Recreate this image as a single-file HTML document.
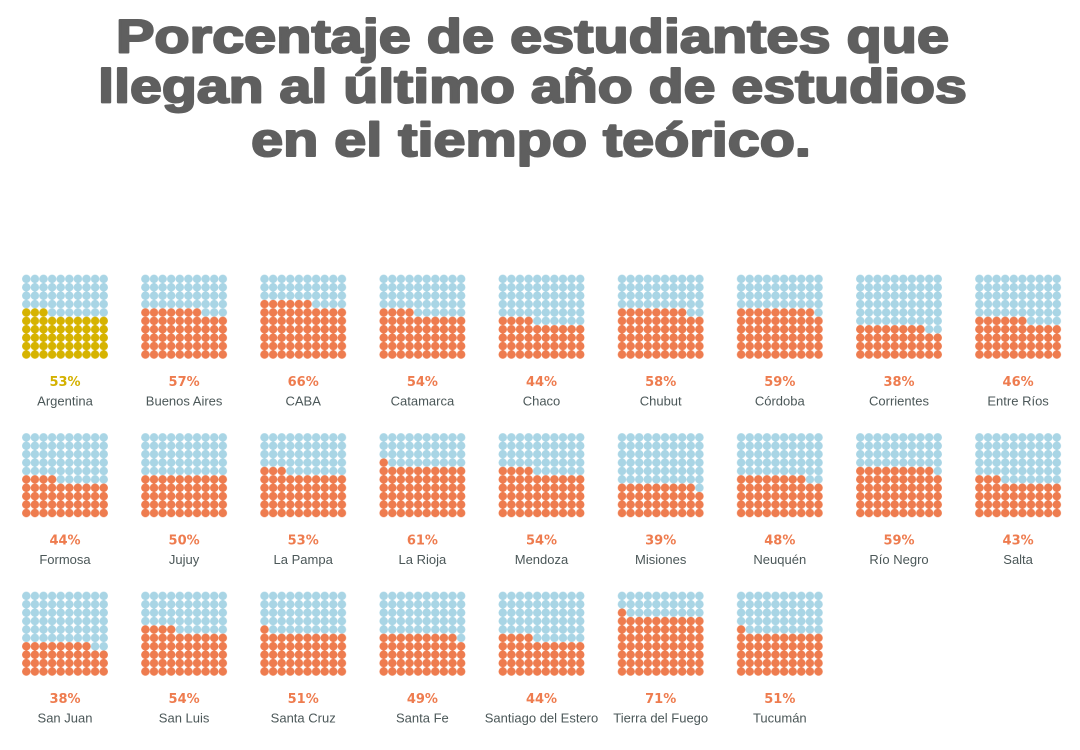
<!DOCTYPE html>
<html>
<head>
<meta charset="utf-8">
<style>
  html,body{margin:0;padding:0;background:#ffffff;}
  body{width:1080px;height:750px;overflow:hidden;}
  svg{display:block;}
  .t{font-family:"Liberation Sans",sans-serif;font-weight:bold;font-size:47px;fill:#5f5f5f;stroke:#5f5f5f;stroke-width:2px;stroke-linejoin:round;}
  .p{font-family:"DejaVu Sans",sans-serif;font-weight:bold;font-size:13px;fill:#ee7c4f;}
  .py{fill:#d4b100;}
  .n{font-family:"Liberation Sans",sans-serif;font-size:13px;fill:#4b5758;}
</style>
</head>
<body>
<svg width="1080" height="750" viewBox="0 0 1080 750" xmlns="http://www.w3.org/2000/svg">
  <defs>
    <pattern id="B" patternUnits="userSpaceOnUse" width="8.6" height="8.4"><circle cx="4.3" cy="4.2" r="4.25" fill="#a9d5e5"/></pattern>
    <pattern id="O" patternUnits="userSpaceOnUse" width="8.6" height="8.4"><circle cx="4.3" cy="4.2" r="4.25" fill="#ee7c4f"/></pattern>
    <pattern id="Y" patternUnits="userSpaceOnUse" width="8.6" height="8.4"><circle cx="4.3" cy="4.2" r="4.25" fill="#d6b300"/></pattern>
  </defs>

  <g text-anchor="middle">
    <text class="t" transform="translate(532.5,52.5) scale(1.227,1)" x="0" y="0">Porcentaje de estudiantes que</text>
    <text class="t" transform="translate(532.5,102.5) scale(1.219,1)" x="0" y="0">llegan al último año de estudios</text>
    <text class="t" transform="translate(531,156) scale(1.225,1)" x="0" y="0">en el tiempo teórico.</text>
  </g>

  <!-- Row 1 (y0=274.7) -->
  <g transform="translate(22,274.7)">
    <rect x="0" y="0" width="86" height="33.6" fill="url(#B)"/>
    <rect x="25.8" y="33.6" width="60.2" height="8.4" fill="url(#B)"/>
    <rect x="0" y="33.6" width="25.8" height="8.4" fill="url(#Y)"/>
    <rect x="0" y="42" width="86" height="42" fill="url(#Y)"/>
    <text class="p py" x="43" y="111.5" text-anchor="middle">53%</text>
    <text class="n" x="43" y="131" text-anchor="middle">Argentina</text>
  </g>
  <g transform="translate(141.1,274.7)">
    <rect x="0" y="0" width="86" height="33.6" fill="url(#B)"/>
    <rect x="60.2" y="33.6" width="25.8" height="8.4" fill="url(#B)"/>
    <rect x="0" y="33.6" width="60.2" height="8.4" fill="url(#O)"/>
    <rect x="0" y="42" width="86" height="42" fill="url(#O)"/>
    <text class="p" x="43" y="111.5" text-anchor="middle">57%</text>
    <text class="n" x="43" y="131" text-anchor="middle">Buenos Aires</text>
  </g>
  <g transform="translate(260.2,274.7)">
    <rect x="0" y="0" width="86" height="25.2" fill="url(#B)"/>
    <rect x="51.6" y="25.2" width="34.4" height="8.4" fill="url(#B)"/>
    <rect x="0" y="25.2" width="51.6" height="8.4" fill="url(#O)"/>
    <rect x="0" y="33.6" width="86" height="50.4" fill="url(#O)"/>
    <text class="p" x="43" y="111.5" text-anchor="middle">66%</text>
    <text class="n" x="43" y="131" text-anchor="middle">CABA</text>
  </g>
  <g transform="translate(379.4,274.7)">
    <rect x="0" y="0" width="86" height="33.6" fill="url(#B)"/>
    <rect x="34.4" y="33.6" width="51.6" height="8.4" fill="url(#B)"/>
    <rect x="0" y="33.6" width="34.4" height="8.4" fill="url(#O)"/>
    <rect x="0" y="42" width="86" height="42" fill="url(#O)"/>
    <text class="p" x="43" y="111.5" text-anchor="middle">54%</text>
    <text class="n" x="43" y="131" text-anchor="middle">Catamarca</text>
  </g>
  <g transform="translate(498.5,274.7)">
    <rect x="0" y="0" width="86" height="42" fill="url(#B)"/>
    <rect x="34.4" y="42" width="51.6" height="8.4" fill="url(#B)"/>
    <rect x="0" y="42" width="34.4" height="8.4" fill="url(#O)"/>
    <rect x="0" y="50.4" width="86" height="33.6" fill="url(#O)"/>
    <text class="p" x="43" y="111.5" text-anchor="middle">44%</text>
    <text class="n" x="43" y="131" text-anchor="middle">Chaco</text>
  </g>
  <g transform="translate(617.7,274.7)">
    <rect x="0" y="0" width="86" height="33.6" fill="url(#B)"/>
    <rect x="68.8" y="33.6" width="17.2" height="8.4" fill="url(#B)"/>
    <rect x="0" y="33.6" width="68.8" height="8.4" fill="url(#O)"/>
    <rect x="0" y="42" width="86" height="42" fill="url(#O)"/>
    <text class="p" x="43" y="111.5" text-anchor="middle">58%</text>
    <text class="n" x="43" y="131" text-anchor="middle">Chubut</text>
  </g>
  <g transform="translate(736.8,274.7)">
    <rect x="0" y="0" width="86" height="33.6" fill="url(#B)"/>
    <rect x="77.4" y="33.6" width="8.6" height="8.4" fill="url(#B)"/>
    <rect x="0" y="33.6" width="77.4" height="8.4" fill="url(#O)"/>
    <rect x="0" y="42" width="86" height="42" fill="url(#O)"/>
    <text class="p" x="43" y="111.5" text-anchor="middle">59%</text>
    <text class="n" x="43" y="131" text-anchor="middle">Córdoba</text>
  </g>
  <g transform="translate(856,274.7)">
    <rect x="0" y="0" width="86" height="50.4" fill="url(#B)"/>
    <rect x="68.8" y="50.4" width="17.2" height="8.4" fill="url(#B)"/>
    <rect x="0" y="50.4" width="68.8" height="8.4" fill="url(#O)"/>
    <rect x="0" y="58.8" width="86" height="25.2" fill="url(#O)"/>
    <text class="p" x="43" y="111.5" text-anchor="middle">38%</text>
    <text class="n" x="43" y="131" text-anchor="middle">Corrientes</text>
  </g>
  <g transform="translate(975.1,274.7)">
    <rect x="0" y="0" width="86" height="42" fill="url(#B)"/>
    <rect x="51.6" y="42" width="34.4" height="8.4" fill="url(#B)"/>
    <rect x="0" y="42" width="51.6" height="8.4" fill="url(#O)"/>
    <rect x="0" y="50.4" width="86" height="33.6" fill="url(#O)"/>
    <text class="p" x="43" y="111.5" text-anchor="middle">46%</text>
    <text class="n" x="43" y="131" text-anchor="middle">Entre Ríos</text>
  </g>

  <!-- Row 2 (y0=433.2) -->
  <g transform="translate(22,433.2)">
    <rect x="0" y="0" width="86" height="42" fill="url(#B)"/>
    <rect x="34.4" y="42" width="51.6" height="8.4" fill="url(#B)"/>
    <rect x="0" y="42" width="34.4" height="8.4" fill="url(#O)"/>
    <rect x="0" y="50.4" width="86" height="33.6" fill="url(#O)"/>
    <text class="p" x="43" y="111.5" text-anchor="middle">44%</text>
    <text class="n" x="43" y="131" text-anchor="middle">Formosa</text>
  </g>
  <g transform="translate(141.1,433.2)">
    <rect x="0" y="0" width="86" height="42" fill="url(#B)"/>
    <rect x="0" y="42" width="86" height="42" fill="url(#O)"/>
    <text class="p" x="43" y="111.5" text-anchor="middle">50%</text>
    <text class="n" x="43" y="131" text-anchor="middle">Jujuy</text>
  </g>
  <g transform="translate(260.2,433.2)">
    <rect x="0" y="0" width="86" height="33.6" fill="url(#B)"/>
    <rect x="25.8" y="33.6" width="60.2" height="8.4" fill="url(#B)"/>
    <rect x="0" y="33.6" width="25.8" height="8.4" fill="url(#O)"/>
    <rect x="0" y="42" width="86" height="42" fill="url(#O)"/>
    <text class="p" x="43" y="111.5" text-anchor="middle">53%</text>
    <text class="n" x="43" y="131" text-anchor="middle">La Pampa</text>
  </g>
  <g transform="translate(379.4,433.2)">
    <rect x="0" y="0" width="86" height="25.2" fill="url(#B)"/>
    <rect x="8.6" y="25.2" width="77.4" height="8.4" fill="url(#B)"/>
    <rect x="0" y="25.2" width="8.6" height="8.4" fill="url(#O)"/>
    <rect x="0" y="33.6" width="86" height="50.4" fill="url(#O)"/>
    <text class="p" x="43" y="111.5" text-anchor="middle">61%</text>
    <text class="n" x="43" y="131" text-anchor="middle">La Rioja</text>
  </g>
  <g transform="translate(498.5,433.2)">
    <rect x="0" y="0" width="86" height="33.6" fill="url(#B)"/>
    <rect x="34.4" y="33.6" width="51.6" height="8.4" fill="url(#B)"/>
    <rect x="0" y="33.6" width="34.4" height="8.4" fill="url(#O)"/>
    <rect x="0" y="42" width="86" height="42" fill="url(#O)"/>
    <text class="p" x="43" y="111.5" text-anchor="middle">54%</text>
    <text class="n" x="43" y="131" text-anchor="middle">Mendoza</text>
  </g>
  <g transform="translate(617.7,433.2)">
    <rect x="0" y="0" width="86" height="50.4" fill="url(#B)"/>
    <rect x="77.4" y="50.4" width="8.6" height="8.4" fill="url(#B)"/>
    <rect x="0" y="50.4" width="77.4" height="8.4" fill="url(#O)"/>
    <rect x="0" y="58.8" width="86" height="25.2" fill="url(#O)"/>
    <text class="p" x="43" y="111.5" text-anchor="middle">39%</text>
    <text class="n" x="43" y="131" text-anchor="middle">Misiones</text>
  </g>
  <g transform="translate(736.8,433.2)">
    <rect x="0" y="0" width="86" height="42" fill="url(#B)"/>
    <rect x="68.8" y="42" width="17.2" height="8.4" fill="url(#B)"/>
    <rect x="0" y="42" width="68.8" height="8.4" fill="url(#O)"/>
    <rect x="0" y="50.4" width="86" height="33.6" fill="url(#O)"/>
    <text class="p" x="43" y="111.5" text-anchor="middle">48%</text>
    <text class="n" x="43" y="131" text-anchor="middle">Neuquén</text>
  </g>
  <g transform="translate(856,433.2)">
    <rect x="0" y="0" width="86" height="33.6" fill="url(#B)"/>
    <rect x="77.4" y="33.6" width="8.6" height="8.4" fill="url(#B)"/>
    <rect x="0" y="33.6" width="77.4" height="8.4" fill="url(#O)"/>
    <rect x="0" y="42" width="86" height="42" fill="url(#O)"/>
    <text class="p" x="43" y="111.5" text-anchor="middle">59%</text>
    <text class="n" x="43" y="131" text-anchor="middle">Río Negro</text>
  </g>
  <g transform="translate(975.1,433.2)">
    <rect x="0" y="0" width="86" height="42" fill="url(#B)"/>
    <rect x="25.8" y="42" width="60.2" height="8.4" fill="url(#B)"/>
    <rect x="0" y="42" width="25.8" height="8.4" fill="url(#O)"/>
    <rect x="0" y="50.4" width="86" height="33.6" fill="url(#O)"/>
    <text class="p" x="43" y="111.5" text-anchor="middle">43%</text>
    <text class="n" x="43" y="131" text-anchor="middle">Salta</text>
  </g>

  <!-- Row 3 (y0=591.7) -->
  <g transform="translate(22,591.7)">
    <rect x="0" y="0" width="86" height="50.4" fill="url(#B)"/>
    <rect x="68.8" y="50.4" width="17.2" height="8.4" fill="url(#B)"/>
    <rect x="0" y="50.4" width="68.8" height="8.4" fill="url(#O)"/>
    <rect x="0" y="58.8" width="86" height="25.2" fill="url(#O)"/>
    <text class="p" x="43" y="111.5" text-anchor="middle">38%</text>
    <text class="n" x="43" y="131" text-anchor="middle">San Juan</text>
  </g>
  <g transform="translate(141.1,591.7)">
    <rect x="0" y="0" width="86" height="33.6" fill="url(#B)"/>
    <rect x="34.4" y="33.6" width="51.6" height="8.4" fill="url(#B)"/>
    <rect x="0" y="33.6" width="34.4" height="8.4" fill="url(#O)"/>
    <rect x="0" y="42" width="86" height="42" fill="url(#O)"/>
    <text class="p" x="43" y="111.5" text-anchor="middle">54%</text>
    <text class="n" x="43" y="131" text-anchor="middle">San Luis</text>
  </g>
  <g transform="translate(260.2,591.7)">
    <rect x="0" y="0" width="86" height="33.6" fill="url(#B)"/>
    <rect x="8.6" y="33.6" width="77.4" height="8.4" fill="url(#B)"/>
    <rect x="0" y="33.6" width="8.6" height="8.4" fill="url(#O)"/>
    <rect x="0" y="42" width="86" height="42" fill="url(#O)"/>
    <text class="p" x="43" y="111.5" text-anchor="middle">51%</text>
    <text class="n" x="43" y="131" text-anchor="middle">Santa Cruz</text>
  </g>
  <g transform="translate(379.4,591.7)">
    <rect x="0" y="0" width="86" height="42" fill="url(#B)"/>
    <rect x="77.4" y="42" width="8.6" height="8.4" fill="url(#B)"/>
    <rect x="0" y="42" width="77.4" height="8.4" fill="url(#O)"/>
    <rect x="0" y="50.4" width="86" height="33.6" fill="url(#O)"/>
    <text class="p" x="43" y="111.5" text-anchor="middle">49%</text>
    <text class="n" x="43" y="131" text-anchor="middle">Santa Fe</text>
  </g>
  <g transform="translate(498.5,591.7)">
    <rect x="0" y="0" width="86" height="42" fill="url(#B)"/>
    <rect x="34.4" y="42" width="51.6" height="8.4" fill="url(#B)"/>
    <rect x="0" y="42" width="34.4" height="8.4" fill="url(#O)"/>
    <rect x="0" y="50.4" width="86" height="33.6" fill="url(#O)"/>
    <text class="p" x="43" y="111.5" text-anchor="middle">44%</text>
    <text class="n" x="43" y="131" text-anchor="middle">Santiago del Estero</text>
  </g>
  <g transform="translate(617.7,591.7)">
    <rect x="0" y="0" width="86" height="16.8" fill="url(#B)"/>
    <rect x="8.6" y="16.8" width="77.4" height="8.4" fill="url(#B)"/>
    <rect x="0" y="16.8" width="8.6" height="8.4" fill="url(#O)"/>
    <rect x="0" y="25.2" width="86" height="58.8" fill="url(#O)"/>
    <text class="p" x="43" y="111.5" text-anchor="middle">71%</text>
    <text class="n" x="43" y="131" text-anchor="middle">Tierra del Fuego</text>
  </g>
  <g transform="translate(736.8,591.7)">
    <rect x="0" y="0" width="86" height="33.6" fill="url(#B)"/>
    <rect x="8.6" y="33.6" width="77.4" height="8.4" fill="url(#B)"/>
    <rect x="0" y="33.6" width="8.6" height="8.4" fill="url(#O)"/>
    <rect x="0" y="42" width="86" height="42" fill="url(#O)"/>
    <text class="p" x="43" y="111.5" text-anchor="middle">51%</text>
    <text class="n" x="43" y="131" text-anchor="middle">Tucumán</text>
  </g>
</svg>
</body>
</html>
